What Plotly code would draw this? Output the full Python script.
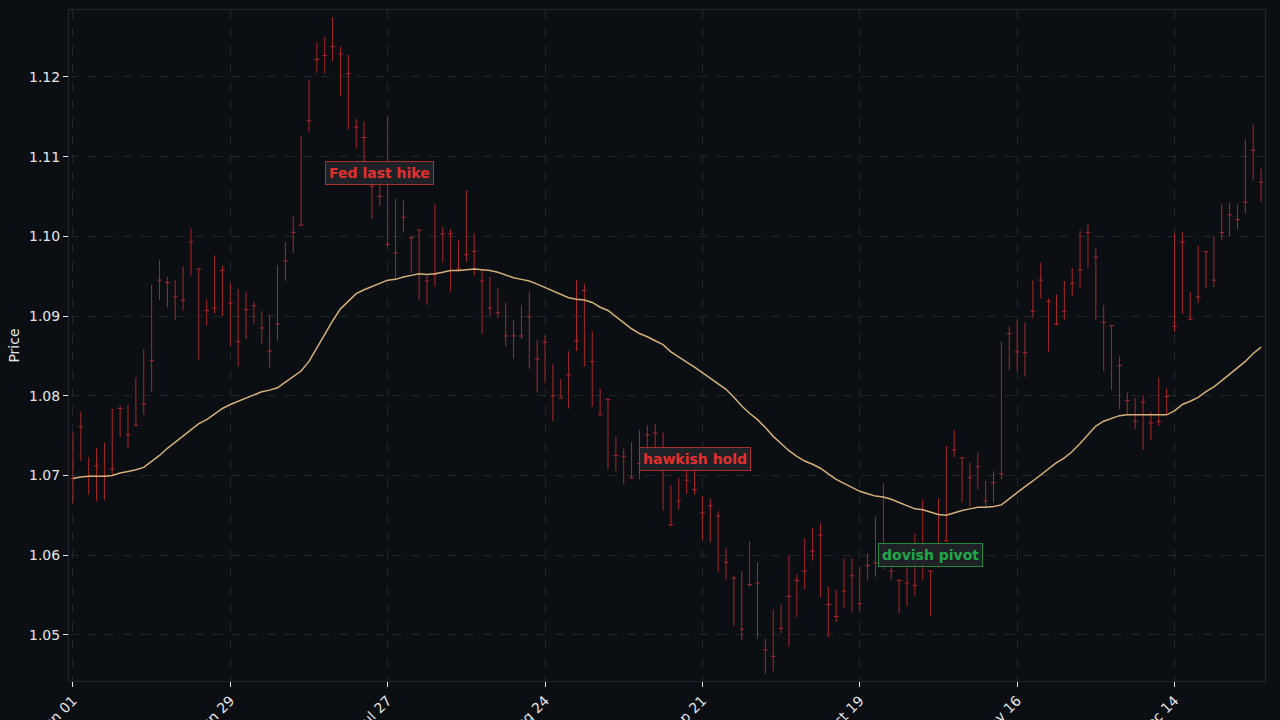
import pandas as pd
import plotly.graph_objects as go

start_date = "2023-06-01"
n_bars = 152

high = [1.0754,1.0780,1.0723,1.0734,1.0741,1.0784,1.0787,1.0789,1.0823,1.0858,
        1.0939,1.0970,1.0949,1.0945,1.0962,1.1010,1.0960,1.0921,1.0976,1.0963,
        1.0941,1.0934,1.0931,1.0918,1.0906,1.0902,1.0964,1.0993,1.1025,1.1126,
        1.1196,1.1243,1.1250,1.1275,1.1238,1.1228,1.1147,1.1144,1.1088,1.1077,
        1.1151,1.1047,1.1045,1.1001,1.1008,1.0951,1.1040,1.1012,1.1009,1.0995,
        1.1058,1.1004,1.0959,1.0949,1.0935,1.0917,1.0895,1.0914,1.0931,1.0870,
        1.0876,1.0839,1.0821,1.0856,1.0945,1.0941,1.0881,1.0809,1.0797,1.0748,
        1.0734,1.0742,1.0757,1.0763,1.0765,1.0754,1.0688,1.0697,1.0710,1.0712,
        1.0674,1.0671,1.0655,1.0608,1.0574,1.0580,1.0617,1.0591,1.0495,1.0532,
        1.0538,1.0599,1.0576,1.0621,1.0634,1.0640,1.0560,1.0556,1.0596,1.0596,
        1.0585,1.0602,1.0648,1.0690,1.0595,1.0570,1.0592,1.0627,1.0670,1.0581,
        1.0671,1.0737,1.0757,1.0722,1.0716,1.0729,1.0693,1.0705,1.0868,1.0887,
        1.0894,1.0892,1.0945,1.0967,1.0922,1.0927,1.0944,1.0960,1.1007,1.1016,
        1.0985,1.0914,1.0888,1.0849,1.0804,1.0797,1.0801,1.0780,1.0823,1.0809,
        1.1004,1.1005,1.0930,1.0988,1.0981,1.1000,1.1041,1.1042,1.1040,1.1122,
        1.1140,1.1085]

low = [1.0665,1.0718,1.0676,1.0668,1.0669,1.0700,1.0748,1.0734,1.0762,1.0776,
       1.0805,1.0920,1.0911,1.0895,1.0907,1.0951,1.0845,1.0888,1.0903,1.0900,
       1.0862,1.0837,1.0871,1.0891,1.0865,1.0835,1.0869,1.0944,1.0979,1.1014,
       1.1131,1.1205,1.1204,1.1220,1.1176,1.1134,1.1110,1.1069,1.1022,1.1038,
       1.0987,1.0947,1.1005,1.0954,1.0920,1.0914,1.0937,1.0967,1.0931,1.0956,
       1.0968,1.0951,1.0878,1.0901,1.0897,1.0862,1.0846,1.0871,1.0834,1.0804,
       1.0816,1.0768,1.0797,1.0784,1.0856,1.0837,1.0786,1.0776,1.0708,1.0705,
       1.0689,1.0696,1.0695,1.0728,1.0728,1.0656,1.0636,1.0657,1.0677,1.0676,
       1.0619,1.0616,1.0578,1.0569,1.0511,1.0493,1.0560,1.0495,1.0451,1.0454,
       1.0502,1.0485,1.0522,1.0557,1.0593,1.0547,1.0497,1.0516,1.0534,1.0528,
       1.0530,1.0568,1.0573,1.0582,1.0569,1.0527,1.0536,1.0549,1.0568,1.0524,
       1.0584,1.0616,1.0723,1.0666,1.0661,1.0682,1.0660,1.0666,1.0695,1.0832,
       1.0831,1.0824,1.0897,1.0922,1.0855,1.0888,1.0895,1.0925,1.0935,1.0961,
       1.0895,1.0831,1.0807,1.0783,1.0776,1.0758,1.0732,1.0744,1.0762,1.0777,
       1.0880,1.0903,1.0895,1.0916,1.0935,1.0936,1.0995,1.1000,1.1009,1.1029,
       1.1070,1.1043]

close = [1.0696,1.0761,1.0699,1.0712,1.0699,1.0708,1.0784,1.0751,1.0763,1.0790,
         1.0844,1.0945,1.0942,1.0924,1.0920,1.0993,1.0959,1.0907,1.0910,1.0957,
         1.0916,1.0868,1.0908,1.0913,1.0885,1.0856,1.0890,1.0969,1.1005,1.1014,
         1.1145,1.1222,1.1227,1.1238,1.1229,1.1204,1.1137,1.1124,1.1063,1.1050,
         1.0990,1.0979,1.1024,1.0998,1.1008,1.0944,1.0952,1.1003,1.1003,1.0959,
         1.0977,1.0981,1.0944,1.0910,1.0904,1.0875,1.0875,1.0875,1.0899,1.0846,
         1.0867,1.0800,1.0797,1.0826,1.0869,1.0932,1.0843,1.0776,1.0795,1.0725,
         1.0724,1.0697,1.0715,1.0751,1.0753,1.0720,1.0638,1.0668,1.0694,1.0682,
         1.0653,1.0662,1.0649,1.0591,1.0571,1.0507,1.0563,1.0565,1.0481,1.0473,
         1.0508,1.0548,1.0568,1.0580,1.0605,1.0625,1.0538,1.0523,1.0555,1.0574,
         1.0539,1.0587,1.0590,1.0600,1.0580,1.0568,1.0565,1.0562,1.0600,1.0580,
         1.0605,1.0618,1.0732,1.0722,1.0697,1.0711,1.0668,1.0691,1.0702,1.0878,
         1.0855,1.0854,1.0906,1.0945,1.0918,1.0890,1.0906,1.0941,1.0958,1.1005,
         1.0974,1.0892,1.0888,1.0838,1.0794,1.0768,1.0792,1.0766,1.0768,1.0799,
         1.0887,1.0993,1.0896,1.0924,1.0981,1.0945,1.1005,1.1027,1.1021,1.1043,
         1.1108,1.1068]

open_ = list(close)

ma20 = [1.0696,1.0698,1.0699,1.0699,1.0699,1.0700,1.0703,1.0705,1.0707,1.0710,
        1.0717,1.0725,1.0734,1.0742,1.0749,1.0757,1.0765,1.0770,1.0777,1.0784,
        1.0789,1.0793,1.0797,1.0802,1.0805,1.0807,1.0810,1.0817,1.0824,1.0831,
        1.0843,1.0860,1.0877,1.0894,1.0909,1.0919,1.0928,1.0933,1.0937,1.0941,
        1.0945,1.0946,1.0949,1.0951,1.0953,1.0952,1.0953,1.0955,1.0957,1.0957,
        1.0958,1.0959,1.0958,1.0957,1.0955,1.0951,1.0948,1.0946,1.0944,1.0940,
        1.0936,1.0932,1.0928,1.0923,1.0921,1.0920,1.0917,1.0911,1.0907,1.0899,
        1.0891,1.0884,1.0878,1.0874,1.0869,1.0864,1.0855,1.0848,1.0842,1.0836,
        1.0829,1.0823,1.0816,1.0808,1.0798,1.0787,1.0778,1.0770,1.0760,1.0749,
        1.0740,1.0731,1.0724,1.0718,1.0714,1.0709,1.0702,1.0695,1.0690,1.0685,
        1.0680,1.0677,1.0674,1.0673,1.0670,1.0666,1.0662,1.0658,1.0657,1.0654,
        1.0651,1.0650,1.0653,1.0656,1.0658,1.0660,1.0660,1.0661,1.0663,1.0671,
        1.0679,1.0686,1.0693,1.0701,1.0709,1.0716,1.0722,1.0730,1.0740,1.0751,
        1.0762,1.0768,1.0772,1.0775,1.0776,1.0776,1.0776,1.0776,1.0776,1.0776,
        1.0781,1.0789,1.0793,1.0798,1.0805,1.0811,1.0819,1.0827,1.0835,1.0843,
        1.0853,1.0861]

events = [("2023-07-26", 1.108, "Fed last hike", "#e0302f", "#a8302f"),
          ("2023-09-20", 1.072, "hawkish hold", "#e0302f", "#a8302f"),
          ("2023-11-01", 1.060, "dovish pivot", "#20a848", "#1d8a40")]

dates = pd.bdate_range(start_date, periods=n_bars)

BG = "#0b0e13"
BAR = "#a8282a"
GRID = "#22262c"

fig = go.Figure()
fig.add_trace(go.Ohlc(
    x=dates, open=open_, high=high, low=low, close=close,
    increasing=dict(line=dict(color=BAR, width=1)),
    decreasing=dict(line=dict(color=BAR, width=1)),
    tickwidth=0.3, showlegend=False, hoverinfo="skip"))
fig.add_trace(go.Scatter(
    x=dates, y=ma20, mode="lines",
    line=dict(color="#d4b07a", width=1.5),
    showlegend=False, hoverinfo="skip"))

for d, y, txt, col, bcol in events:
    fig.add_annotation(
        x=d, y=y, text="<b>%s</b>" % txt, showarrow=False,
        font=dict(family="DejaVu Sans", size=14, color=col),
        bgcolor="rgba(32,35,40,0.9)", bordercolor=bcol, borderwidth=1,
        borderpad=3)

fig.update_layout(
    width=1280, height=720,
    paper_bgcolor=BG, plot_bgcolor=BG,
    margin=dict(l=69, r=15, t=10, b=39),
    font=dict(family="DejaVu Sans", size=13, color="#e6e6e6"),
    showlegend=False,
    xaxis=dict(
        type="date",
        rangebreaks=[dict(bounds=["sat", "mon"])],
        rangeslider=dict(visible=False),
        tick0=start_date, dtick=28 * 86400000, tickformat="%b %d",
        tickangle=-45, ticks="outside", ticklen=5, tickcolor="#e6e6e6",
        tickfont=dict(size=14),
        showgrid=True, gridcolor=GRID, griddash="dash", gridwidth=1,
        showline=True, linecolor="#23272e", linewidth=1, mirror=True,
        zeroline=False, automargin=False),
    yaxis=dict(
        title=dict(text="Price", font=dict(size=14), standoff=6),
        range=[1.0442, 1.1284], dtick=0.01, tickformat=".2f",
        tickfont=dict(size=14),
        ticks="outside", ticklen=5, tickcolor="#e6e6e6",
        showgrid=True, gridcolor=GRID, griddash="dash", gridwidth=1,
        showline=True, linecolor="#23272e", linewidth=1, mirror=True,
        zeroline=False, automargin=False),
)

fig.write_html("out.html",
               config={"displayModeBar": False},
               post_script="document.body.style.margin='0';"
                           "document.body.style.background='%s';" % BG)
